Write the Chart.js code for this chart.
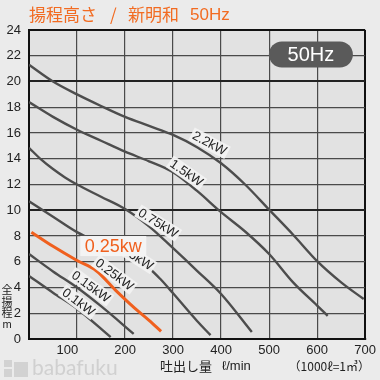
<!DOCTYPE html>
<html lang="ja">
<head>
<meta charset="utf-8">
<title>揚程高さ / 新明和 50Hz</title>
<script src="https://cdn.jsdelivr.net/npm/chart.js@4.4.1/dist/chart.umd.min.js"></script>
<style>
  html, body { margin: 0; padding: 0; background: #ebebeb; }
  #wrap { width: 380px; height: 380px; }
</style>
</head>
<body>
<div id="wrap"><canvas id="pumpChart" width="380" height="380"></canvas></div>
<script>
// 吐出し量 (ℓ/min) と 全揚程 (m) - 各出力ごとの性能曲線
const q22 = [0, 50, 100, 150, 200, 250, 300, 350, 400, 450, 500, 550, 600, 650, 697];
const h22 = [21.3, 20.0, 19.0, 18.1, 17.25, 16.55, 15.85, 14.9, 13.65, 12.0, 10.05, 8.1, 6.05, 4.4, 3.1];

const q15 = [0, 50, 100, 150, 200, 250, 300, 350, 400, 450, 500, 550, 600, 622];
const h15 = [18.4, 17.25, 16.25, 15.4, 14.55, 13.8, 12.95, 11.5, 9.85, 8.35, 6.6, 4.4, 2.6, 1.8];

const q075 = [0, 25, 50, 75, 100, 150, 200, 250, 300, 350, 400, 464];
const h075 = [14.85, 13.95, 13.2, 12.55, 12.0, 11.05, 10.1, 8.75, 7.05, 5.3, 3.5, 0.55];

const q05 = [0, 50, 100, 150, 200, 225, 250, 275, 300, 350, 378];
const h05 = [10.7, 9.5, 8.3, 7.4, 6.5, 6.05, 5.5, 4.6, 3.55, 1.4, 0.3];

const q025 = [5, 50, 100, 140, 180, 220, 250, 275];
const h025 = [8.3, 7.2, 6.1, 5.3, 3.8, 2.4, 1.45, 0.6];

const q015 = [0, 50, 100, 150, 218];
const h015 = [6.6, 5.25, 4.0, 2.55, 0.4];

const q01 = [0, 50, 100, 170];
const h01 = [4.9, 3.6, 2.35, 0.15];

// 目盛りラベル
const xTickLabels = ['', '100', '200', '300', '400', '500', '600', '700'];
const yTickLabels = ['0', '2', '4', '6', '8', '10', '12', '14', '16', '18', '20', '22', '24'];

document.addEventListener('DOMContentLoaded', () => {
    if (typeof Chart === 'undefined') {
        console.error('Chart.js が読み込まれていません');
        return;
    }

    const grayLine = '#4d4d4d';
    const orange = '#f0601e';
    const latin = '"Liberation Sans", Arial, sans-serif';
    const cjk = '"Noto Sans CJK JP", "Noto Sans", sans-serif';

    function pts(qs, hs) {
        return qs.map((q, i) => ({ x: q, y: hs[i] }));
    }

    function curve(label, qs, hs, color, width) {
        return {
            label: label,
            data: pts(qs, hs),
            borderColor: color,
            borderWidth: width,
            pointRadius: 0,
            cubicInterpolationMode: 'monotone',
            fill: false
        };
    }

    // 曲線上の出力ラベル (データ座標で位置指定)
    const curveTags = [
        { text: '2.2kW', q: 376, h: 15.2, deg: 28 },
        { text: '1.5kW', q: 328, h: 12.9, deg: 35 },
        { text: '0.75kW', q: 269, h: 9.0, deg: 32 },
        { text: '0.5kW', q: 224, h: 6.35, deg: 33 },
        { text: '0.25kW', q: 178, h: 5.0, deg: 37 },
        { text: '0.15kW', q: 129, h: 4.06, deg: 36 },
        { text: '0.1kW', q: 103, h: 2.87, deg: 37 }
    ];

    // 背景
    const backgroundPlugin = {
        id: 'background',
        beforeDraw(chart) {
            const { ctx, chartArea: a } = chart;
            ctx.save();
            ctx.fillStyle = '#ebebeb';
            ctx.fillRect(0, 0, chart.width, chart.height);
            ctx.fillStyle = '#e2e2e2';
            ctx.fillRect(a.left, a.top, a.right - a.left, a.bottom - a.top);
            ctx.restore();
        }
    };

    // ラベル・タイトル類
    const textPlugin = {
        id: 'texts',
        afterDatasetsDraw(chart) {
            const { ctx } = chart;
            const sx = chart.scales.x;
            const sy = chart.scales.y;
            ctx.save();
            ctx.font = '13px ' + latin;
            ctx.textAlign = 'center';
            ctx.textBaseline = 'middle';
            curveTags.forEach(t => {
                const px = sx.getPixelForValue(t.q);
                const py = sy.getPixelForValue(t.h);
                const w = ctx.measureText(t.text).width;
                ctx.save();
                ctx.translate(px, py);
                ctx.rotate(t.deg * Math.PI / 180);
                ctx.fillStyle = 'rgba(242,242,242,0.95)';
                ctx.fillRect(-w / 2 - 2, -7, w + 4, 14);
                ctx.fillStyle = '#1e1e1e';
                ctx.fillText(t.text, 0, 0.5);
                ctx.restore();
            });

            // 0.25kw 強調ボックス
            const bx = sx.getPixelForValue(175.5);
            const by = sy.getPixelForValue(7.22);
            ctx.fillStyle = '#f4f4f4';
            ctx.fillRect(bx - 33, by - 10, 66, 20);
            ctx.font = '18px ' + latin;
            ctx.fillStyle = orange;
            ctx.fillText('0.25kw', bx, by + 0.5);

            // 50Hz バッジ
            const cx = sx.getPixelForValue(587);
            const cy = sy.getPixelForValue(22.1);
            ctx.fillStyle = '#5a5a5a';
            ctx.beginPath();
            ctx.roundRect(cx - 42, cy - 13, 84, 26, 13);
            ctx.fill();
            ctx.fillStyle = '#ffffff';
            ctx.font = '20px ' + latin;
            ctx.fillText('50Hz', cx, cy + 1);
            ctx.restore();
        },
        afterDraw(chart) {
            const { ctx } = chart;
            ctx.save();
            ctx.textBaseline = 'middle';
            ctx.textAlign = 'left';

            // タイトル
            ctx.fillStyle = '#f26b21';
            ctx.font = '17px ' + cjk;
            ctx.fillText('揚程高さ', 29, 14.5);
            ctx.fillText('/', 110, 14.5);
            ctx.fillText('新明和', 128, 14.5);
            ctx.font = '17px ' + latin;
            ctx.fillText('50Hz', 190, 15);

            // 縦軸タイトル
            ctx.fillStyle = '#222';
            ctx.textAlign = 'center';
            ctx.font = '11px ' + cjk;
            ['全', '揚', '程'].forEach((c, i) => ctx.fillText(c, 7, 290 + i * 11.5));
            ctx.font = '11px ' + latin;
            ctx.fillText('m', 7, 325);

            // 横軸タイトル
            ctx.textAlign = 'left';
            ctx.font = '13px ' + cjk;
            ctx.fillText('吐出し量', 160, 366.5);
            ctx.font = '13px ' + latin;
            ctx.fillText('ℓ/min', 222, 366.5);
            ctx.textAlign = 'right';
            ctx.font = '12px ' + cjk;
            ctx.fillText('（1000ℓ=1㎥）', 370, 366.5);

            // ロゴ (透かし)
            ctx.fillStyle = '#d2d2d2';
            ctx.fillRect(4, 360, 8, 17);
            ctx.fillRect(14, 362, 14, 15);
            ctx.fillStyle = '#ebebeb';
            ctx.fillRect(4, 367, 8, 2);
            ctx.fillStyle = '#d0d0d0';
            ctx.textAlign = 'left';
            ctx.font = '21px Lato, ' + latin;
            ctx.fillText('babafuku', 32, 368.5);
            ctx.restore();
        }
    };

    const chartEl = document.getElementById('pumpChart');
    try {
        new Chart(chartEl, {
            type: 'line',
            data: {
                datasets: [
                    curve('0.25kW', q025, h025, orange, 3),
                    curve('2.2kW', q22, h22, grayLine, 2.4),
                    curve('1.5kW', q15, h15, grayLine, 2.4),
                    curve('0.75kW', q075, h075, grayLine, 2.4),
                    curve('0.5kW', q05, h05, grayLine, 2.4),
                    curve('0.15kW', q015, h015, grayLine, 2.4),
                    curve('0.1kW', q01, h01, grayLine, 2.4)
                ]
            },
            options: {
                responsive: false,
                animation: false,
                layout: { padding: { top: 30, right: 11, left: 0, bottom: 0 } },
                plugins: {
                    legend: { display: false },
                    tooltip: { enabled: false },
                    title: { display: false }
                },
                scales: {
                    x: {
                        type: 'linear',
                        min: 0,
                        max: 700,
                        afterFit(s) { s.height = 41; },
                        ticks: {
                            stepSize: 100,
                            maxRotation: 0,
                            padding: 4,
                            color: '#222',
                            font: { size: 13, family: latin },
                            callback: (v) => {
                                const lab = xTickLabels[Math.round(v / 100)] || '';
                                return lab === '100' ? lab + '\u2002\u2002\u2002' : lab;
                            }
                        },
                        grid: {
                            drawTicks: false,
                            color: (c) => (c.tick && c.tick.value === 700) ? '#111' : '#4a4a4a',
                            lineWidth: (c) => (c.tick && c.tick.value === 700) ? 2 : 1.2
                        },
                        border: { color: '#111', width: 2 }
                    },
                    y: {
                        min: 0,
                        max: 24,
                        afterFit(s) { s.width = 29; },
                        ticks: {
                            stepSize: 2,
                            padding: 8,
                            color: '#222',
                            font: { size: 13, family: latin },
                            callback: (v) => yTickLabels[Math.round(v / 2)] || ''
                        },
                        grid: {
                            drawTicks: false,
                            color: (c) => {
                                const v = c.tick ? c.tick.value : -1;
                                if (v === 24) return '#111';
                                if (v === 10 || v === 20) return '#222';
                                return '#4a4a4a';
                            },
                            lineWidth: (c) => {
                                const v = c.tick ? c.tick.value : -1;
                                if (v === 24 || v === 10 || v === 20) return 2;
                                return 1.2;
                            }
                        },
                        border: { color: '#111', width: 2 }
                    }
                }
            },
            plugins: [backgroundPlugin, textPlugin]
        });
    } catch (error) {
        console.error('グラフ作成エラー:', error);
    }
});
</script>
</body>
</html>
